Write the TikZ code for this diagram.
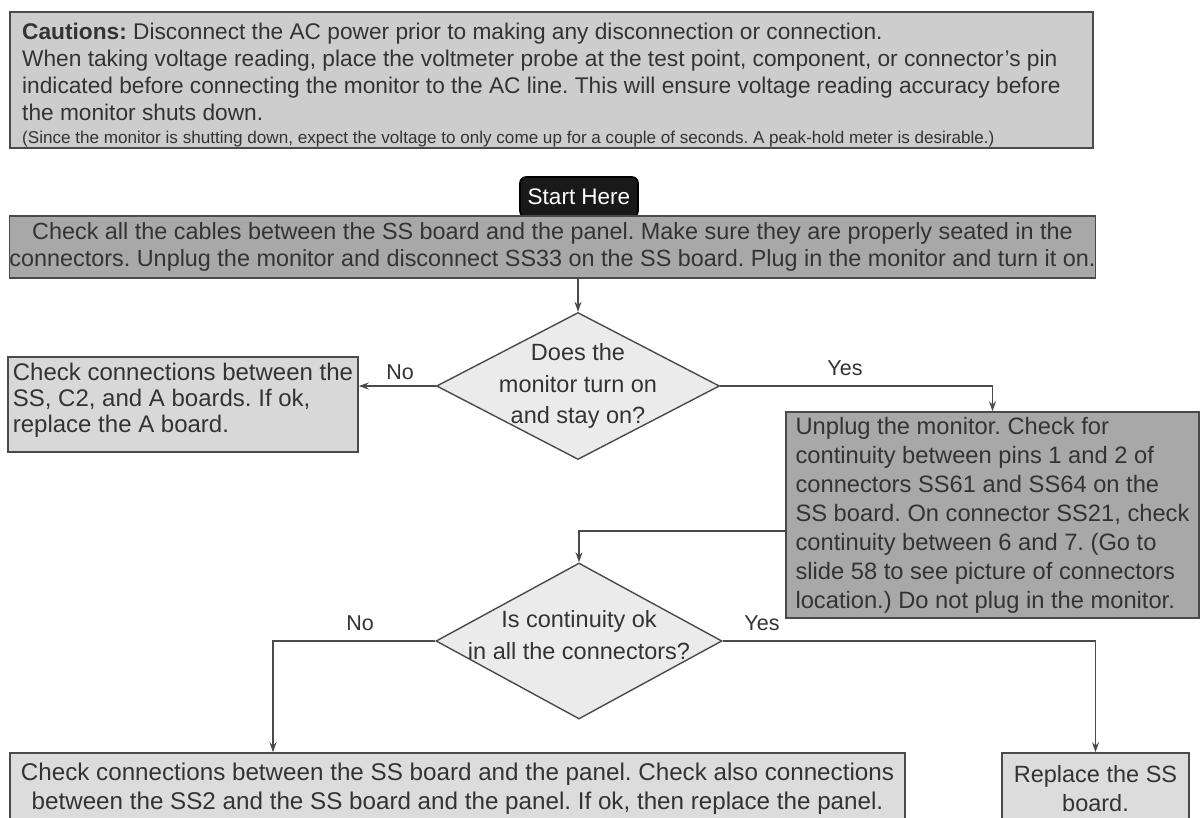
\documentclass[tikz,border=0pt]{standalone}
\usepackage{fontspec}
\setmainfont{Liberation Sans}
\usetikzlibrary{shapes.geometric,arrows.meta,calc}
\definecolor{txt}{HTML}{333333}
\definecolor{edgec}{HTML}{4A4A4A}
\definecolor{cautionfill}{HTML}{CDCDCD}
\definecolor{darkfill}{HTML}{A8A8A8}
\definecolor{lightfill}{HTML}{D8D8D8}
\definecolor{diafill}{HTML}{EBEBEB}
\definecolor{botfill}{HTML}{DCDCDC}
\begin{document}
\frenchspacing
\begin{tikzpicture}[x=1pt,y=-1pt,
  box/.style={draw=edgec, line width=1.6pt, rectangle, inner sep=0pt, text=txt},
  dia/.style={draw=edgec, line width=1.4pt, diamond, fill=diafill, inner sep=0pt},
  dtext/.style={text=txt, align=center, inner sep=0pt},
  lbl/.style={text=txt, inner sep=0pt, font=\fontsize{21.5}{24}\selectfont},
  conn/.style={draw=edgec, line width=1.2pt},
  arr/.style={conn, -{Stealth[length=10pt,width=7pt]}},
]
\useasboundingbox[fill=white] (0,0) rectangle (1200,817);

\node[box, fill=cautionfill, minimum width=1083pt, minimum height=136pt] (caution) at (551.5,80) {};
\node[anchor=north west, inner sep=0pt, text=txt, align=left, font=\fontsize{22.7}{27}\selectfont]
  (cautiontext) at (22,22.5)
{\textbf{Cautions:} Disconnect the AC power prior to making any disconnection or connection.\\
When taking voltage reading, place the voltmeter probe at the test point, component, or connector's pin\\
indicated before connecting the monitor to the AC line. This will ensure voltage reading accuracy before\\
the monitor shuts down.\\[-3.5pt]
{\fontsize{17.1}{19}\selectfont (Since the monitor is shutting down, expect the voltage to only come up for a couple of seconds. A peak-hold meter is desirable.)}};

\node[box, draw=black, fill=black!90, rounded corners=6pt, minimum width=118pt, minimum height=40pt,
      text=white, font=\fontsize{22.5}{26}\selectfont] (start) at (579,197) {Start Here};

\node[box, fill=darkfill, minimum width=1085pt, minimum height=62pt, align=center,
      font=\fontsize{23.4}{27}\selectfont] (main) at (552.5,247)
{Check all the cables between the SS board and the panel. Make sure they are properly seated in the\\
connectors. Unplug the monitor and disconnect SS33 on the SS board. Plug in the monitor and turn it on.};

\node[dia, minimum width=283pt, minimum height=147pt] (d1) at (578,386) {};
\node[dtext, font=\fontsize{23.5}{31.5}\selectfont] (d1t) at (578,386) {Does the\\monitor turn on\\and stay on?};

\node[box, fill=lightfill, minimum width=350pt, minimum height=95pt, align=left,
      font=\fontsize{24}{26}\selectfont] (left) at (183,404.5)
{Check connections between the\\SS, C2, and A boards. If ok,\\replace the A board.\rule[-13pt]{0pt}{1pt}};

\node[box, fill=darkfill, minimum width=413pt, minimum height=206pt, align=left,
      font=\fontsize{23.7}{29}\selectfont] (right) at (992.5,515)
{Unplug the monitor. Check for\\
continuity between pins 1 and 2 of\\
connectors SS61 and SS64 on the\\
SS board. On connector SS21, check\\
continuity between 6 and 7. (Go to\\
slide 58 to see picture of connectors\\
location.) Do not plug in the monitor.};

\node[dia, minimum width=286pt, minimum height=156pt] (d2) at (579,641) {};
\node[dtext, font=\fontsize{23.5}{32}\selectfont] (d2t) at (579,635) {Is continuity ok\\in all the connectors?};

\node[box, fill=botfill, minimum width=895pt, minimum height=72pt, align=center,
      font=\fontsize{24.2}{29}\selectfont] (bl) at (457.5,789)
{Check connections between the SS board and the panel. Check also connections\\
between the SS2 and the SS board and the panel. If ok, then replace the panel.};

\node[box, fill=botfill, minimum width=187pt, minimum height=72pt, align=center,
      font=\fontsize{23.5}{29}\selectfont] (br) at (1095.5,789) {Replace the SS\\board.};

\draw[arr] (main.south -| d1.north) -- (d1.north);
\draw[arr] (d1.west) -- (d1.west -| left.east);
\node[lbl] (no1) at (400,372) {No};
\draw[arr] (d1.east) -| (right.north);
\node[lbl] (yes1) at (845,368) {Yes};
\draw[arr] ([yshift=-16pt]right.west) -| (d2.north);
\draw[arr] (d2.west) -| ([xshift=-184.5pt]bl.north);
\node[lbl] (no2) at (360,623) {No};
\draw[arr] (d2.east) -| (br.north);
\node[lbl] (yes2) at (762,623) {Yes};
\end{tikzpicture}
\end{document}
